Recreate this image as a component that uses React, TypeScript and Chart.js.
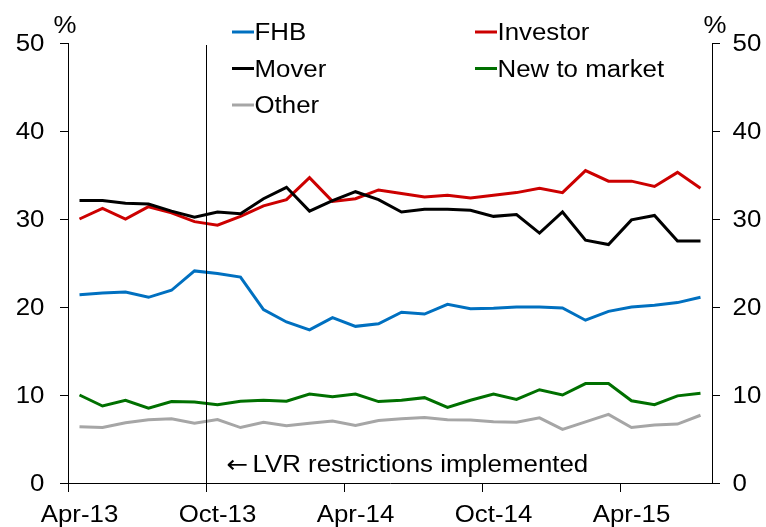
import React, { useEffect, useRef } from "react";
import { Chart, registerables } from "chart.js";

Chart.register(...registerables);

const FONT = '"Liberation Sans", Arial, Helvetica, sans-serif';
const ARROW_FONT = '"DejaVu Sans", sans-serif';
const FS = 23.5; // font size
const SX = 1.1; // horizontal text stretch seen in the reference

// Monthly categories (Apr-13 .. Jul-15)
const months = [
  "Apr-13", "May-13", "Jun-13", "Jul-13", "Aug-13", "Sep-13",
  "Oct-13", "Nov-13", "Dec-13", "Jan-14", "Feb-14", "Mar-14",
  "Apr-14", "May-14", "Jun-14", "Jul-14", "Aug-14", "Sep-14",
  "Oct-14", "Nov-14", "Dec-14", "Jan-15", "Feb-15", "Mar-15",
  "Apr-15", "May-15", "Jun-15", "Jul-15",
];

// Tick positions (month boundaries) shown on the x axis
const xTickMonths = ["Apr-13", "Oct-13", "Apr-14", "Oct-14", "Apr-15"];
const yTicks = [0, 10, 20, 30, 40, 50];

const fhb = [
  21.4, 21.6, 21.7, 21.1, 21.9, 24.1, 23.8, 23.4, 19.7, 18.3, 17.4, 18.8, 17.8, 18.1,
  19.4, 19.2, 20.3, 19.8, 19.85, 20.0, 20.0, 19.9, 18.5, 19.5, 20.0, 20.2, 20.5, 21.1,
];
const investor = [
  30.0, 31.2, 30.0, 31.4, 30.7, 29.7, 29.3, 30.3, 31.5, 32.2, 34.7, 32.0, 32.3, 33.3,
  32.9, 32.5, 32.7, 32.4, 32.7, 33.0, 33.5, 33.0, 35.5, 34.3, 34.3, 33.7, 35.3, 33.5,
];
const mover = [
  32.1, 32.1, 31.8, 31.7, 30.9, 30.2, 30.8, 30.6, 32.3, 33.6, 30.9, 32.1, 33.1, 32.2,
  30.8, 31.1, 31.1, 31.0, 30.3, 30.5, 28.4, 30.8, 27.6, 27.1, 29.9, 30.4, 27.5, 27.5,
];
const newToMarket = [
  10.0, 8.75, 9.4, 8.5, 9.25, 9.2, 8.9, 9.3, 9.4, 9.3, 10.1, 9.8, 10.1, 9.25,
  9.4, 9.7, 8.6, 9.4, 10.1, 9.5, 10.6, 10.0, 11.3, 11.3, 9.35, 8.9, 9.9, 10.2,
];
const other = [
  6.4, 6.3, 6.85, 7.2, 7.3, 6.8, 7.2, 6.3, 6.9, 6.5, 6.8, 7.05, 6.55, 7.1,
  7.3, 7.45, 7.2, 7.15, 6.95, 6.9, 7.4, 6.1, 6.95, 7.8, 6.3, 6.6, 6.7, 7.7,
];

const lvrMonth = "Oct-13";
const annotationArrow = "\u2190";
const annotationText = "LVR restrictions implemented";
const annotationValue = 1.3;

const seriesDefs = [
  { label: "FHB", data: fhb, color: "#0070C0", order: 5, col: 0, row: 0 },
  { label: "Investor", data: investor, color: "#CC0000", order: 4, col: 1, row: 0 },
  { label: "Mover", data: mover, color: "#000000", order: 3, col: 0, row: 1 },
  { label: "New to market", data: newToMarket, color: "#007000", order: 2, col: 1, row: 1 },
  { label: "Other", data: other, color: "#A6A6A6", order: 1, col: 0, row: 2 },
];

const legendCols = [232, 475];
const legendRows = [40, 76.5, 113];

function drawText(
  ctx: CanvasRenderingContext2D,
  text: string,
  x: number,
  y: number,
  align: CanvasTextAlign,
  family: string = FONT
) {
  ctx.save();
  ctx.translate(x, y);
  ctx.scale(SX, 1);
  ctx.font = `${FS}px ${family}`;
  ctx.textAlign = align;
  ctx.textBaseline = "alphabetic";
  ctx.fillStyle = "#000";
  ctx.fillText(text, 0, 0);
  ctx.restore();
}

const overlayPlugin = {
  id: "overlay",
  afterDatasetsDraw(chart: any) {
    const { ctx, chartArea, scales } = chart;
    const x = Math.round(scales.x.getPixelForValue(months.indexOf(lvrMonth))) + 0.5;
    ctx.save();
    ctx.strokeStyle = "#000";
    ctx.lineWidth = 1;
    ctx.beginPath();
    ctx.moveTo(x, chartArea.top + 2);
    ctx.lineTo(x, chartArea.bottom);
    ctx.stroke();
    ctx.restore();

    // annotation
    const ay = scales.y.getPixelForValue(annotationValue);
    drawText(ctx, annotationArrow, x + 20, ay, "left", ARROW_FONT);
    drawText(ctx, annotationText, x + 46, ay, "left");

    // axis unit labels
    drawText(ctx, "%", chartArea.left - 3, chartArea.top - 10, "center");
    drawText(ctx, "%", chartArea.right + 3, chartArea.top - 10, "center");

    // y tick labels (both sides)
    scales.y.ticks.forEach((t: any) => {
      const py = scales.y.getPixelForValue(t.value);
      drawText(ctx, String(t.value), chartArea.left - 23.5, py + 8, "right");
    });
    scales.y2.ticks.forEach((t: any) => {
      const py = scales.y2.getPixelForValue(t.value);
      drawText(ctx, String(t.value), chartArea.right + 20.5, py + 8, "left");
    });

    // x tick labels: centred on the month that starts at each tick
    scales.x.ticks.forEach((t: any) => {
      const px = scales.x.getPixelForValue(t.value + 0.5);
      drawText(ctx, months[t.value], px, chartArea.bottom + 38.7, "center");
    });

    // legend
    seriesDefs.forEach((s) => {
      const lx = legendCols[s.col];
      const ly = legendRows[s.row];
      ctx.save();
      ctx.strokeStyle = s.color;
      ctx.lineWidth = 3;
      ctx.beginPath();
      ctx.moveTo(lx, ly - 8);
      ctx.lineTo(lx + 22, ly - 8);
      ctx.stroke();
      ctx.restore();
      drawText(ctx, s.label, lx + 22.5, ly, "left");
    });
  },
};

export default function App() {
  const canvasRef = useRef<HTMLCanvasElement | null>(null);

  useEffect(() => {
    if (!canvasRef.current) return;
    const axisCommon = {
      grid: {
        drawOnChartArea: false,
        drawTicks: true,
        tickLength: 8,
        color: "#000",
      },
      border: { display: true, color: "#000", width: 1 },
    };
    const chart = new Chart(canvasRef.current, {
      type: "line",
      data: {
        datasets: seriesDefs.map((s) => ({
          label: s.label,
          data: s.data.map((v, i) => ({ x: i + 0.5, y: v })),
          borderColor: s.color,
          backgroundColor: s.color,
          borderWidth: 3,
          pointRadius: 0,
          tension: 0,
          order: s.order,
          yAxisID: "y",
        })),
      },
      options: {
        animation: false,
        responsive: false,
        maintainAspectRatio: false,
        layout: { padding: { top: 43, left: 0, right: 0, bottom: 0 } },
        plugins: {
          legend: { display: false },
          tooltip: { enabled: false },
        },
        scales: {
          x: {
            type: "linear",
            min: 0,
            max: months.length,
            afterBuildTicks: (scale: any) => {
              scale.ticks = xTickMonths.map((m) => ({ value: months.indexOf(m) }));
            },
            afterFit: (scale: any) => {
              scale.height = 44;
            },
            ticks: { display: false },
            ...axisCommon,
            grid: { ...axisCommon.grid, tickLength: 9 },
          },
          y: {
            type: "linear",
            position: "left",
            min: 0,
            max: 50,
            afterBuildTicks: (scale: any) => {
              scale.ticks = yTicks.map((v) => ({ value: v }));
            },
            afterFit: (scale: any) => {
              scale.width = 68;
            },
            ticks: { display: false },
            ...axisCommon,
          },
          y2: {
            type: "linear",
            position: "right",
            min: 0,
            max: 50,
            afterBuildTicks: (scale: any) => {
              scale.ticks = yTicks.map((v) => ({ value: v }));
            },
            afterFit: (scale: any) => {
              scale.width = 54;
            },
            ticks: { display: false },
            ...axisCommon,
          },
        },
      } as any,
      plugins: [overlayPlugin],
    });
    return () => chart.destroy();
  }, []);

  return (
    <div style={{ position: "absolute", left: 0, top: 0, width: 766, height: 527, background: "#fff" }}>
      <canvas ref={canvasRef} width={766} height={527} style={{ display: "block" }} />
    </div>
  );
}
